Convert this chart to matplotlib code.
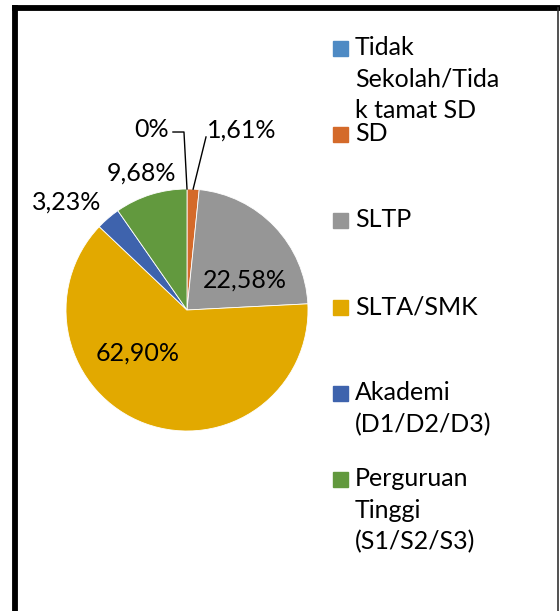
import numpy as np
import matplotlib.pyplot as plt
from matplotlib.lines import Line2D

plt.rcParams['font.family'] = ['Lato', 'DejaVu Sans']

categories = ['Tidak\nSekolah/Tida\nk tamat SD', 'SD', 'SLTP', 'SLTA/SMK',
              'Akademi\n(D1/D2/D3)', 'Perguruan\nTinggi\n(S1/S2/S3)']
values = [0.0, 1.61, 22.58, 62.90, 3.23, 9.68]
value_labels = ['0%', '1,61%', '22,58%', '62,90%', '3,23%', '9,68%']
colors = ['#4E8AC4', '#D46A2A', '#969696', '#E2A900', '#3E63AD', '#62993E']

W, H = 560, 611
fig = plt.figure(figsize=(W / 100, H / 100), dpi=100)

# pie centre (187, 310) px, radius 121 px
cx, cy, r = 187, 310, 121
ax = fig.add_axes([(cx - r) / W, (H - cy - r) / H, 2 * r / W, 2 * r / H])
wedges, _ = ax.pie(values, colors=colors, startangle=90, counterclock=False,
                   radius=1, wedgeprops=dict(edgecolor='white', linewidth=0.6))
ax.set_xlim(-1, 1)
ax.set_ylim(-1, 1)
ax.set_aspect('equal')
ax.axis('off')

fs = 18
# label positions in pie units (layout)
label_pos = [(-0.29, 1.49), (0.455, 1.49), (0.477, 0.248), (-0.41, -0.358),
             (-0.992, 0.893), (-0.372, 1.132)]
for txt, (x, y) in zip(value_labels, label_pos):
    ax.text(x, y, txt, fontsize=fs, ha='center', va='center', clip_on=False)

# leader lines for the two tiny slices
def mid_point(w):
    a = np.deg2rad((w.theta1 + w.theta2) / 2)
    return np.cos(a), np.sin(a)

mx, my = mid_point(wedges[0])
ax.plot([-0.116, -0.025, mx], [1.471, 1.471, my], color='black', lw=1, clip_on=False)
mx, my = mid_point(wedges[1])
ax.plot([0.157, mx], [1.43, my], color='black', lw=1, clip_on=False)

# legend
leg_y = [48, 134, 220, 307, 393, 479]
for lab, col, y in zip(categories, colors, leg_y):
    fy = 1 - y / H
    fig.patches.append(plt.Rectangle((333 / W, fy - 8 / H), 15 / W, 15 / H,
                                     color=col, transform=fig.transFigure))
    fig.text(355 / W, fy + 12 / H, lab, fontsize=fs, ha='left', va='top',
             linespacing=1.45)

# chart border
fig.lines.append(Line2D([14.5 / W, 14.5 / W], [0, 1 - 7.5 / H], color='black', lw=4.2,
                        transform=fig.transFigure, solid_capstyle='projecting'))
fig.lines.append(Line2D([14.5 / W, 1], [1 - 7.5 / H, 1 - 7.5 / H], color='black', lw=4.2,
                        transform=fig.transFigure, solid_capstyle='projecting'))
fig.lines.append(Line2D([557.5 / W, 557.5 / W], [0, 1 - 7.5 / H], color='#333333', lw=1.2,
                        transform=fig.transFigure))

fig.savefig('out.png', dpi=100)
